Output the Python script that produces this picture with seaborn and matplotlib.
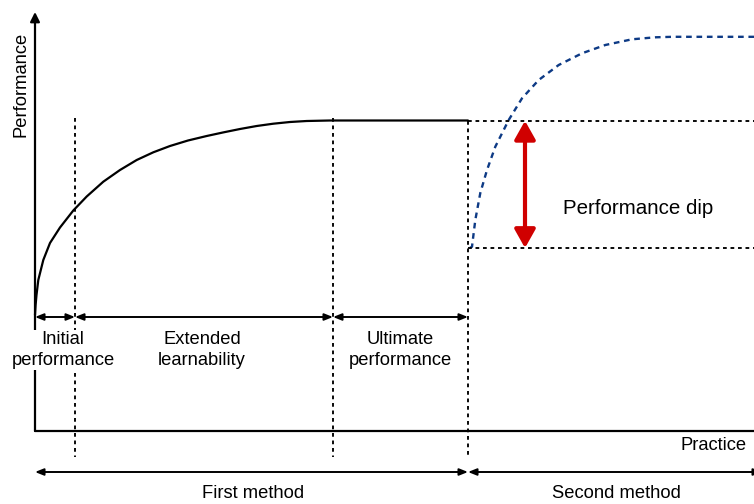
import matplotlib
matplotlib.use("Agg")
import matplotlib.pyplot as plt
import seaborn as sns
import pandas as pd

# Learning curve of the first method (practice, performance)
first_x = [35, 35.6, 36.5, 38.3, 43.3, 50, 60, 73.3, 86.7, 103.3, 120, 136.7, 153.3, 170, 188,
           206.7, 223.3, 240, 256.7, 273.3, 290, 306.7, 330, 468]
first_y = [315, 305, 295, 280, 260, 243, 227.5, 210.5, 196.5, 181.7, 170, 160, 152.3, 146, 140.5,
           136, 132.4, 129, 126, 123.7, 122, 121, 120.5, 120.5]

# Learning curve of the second method
second_x = [470, 472, 475.3, 480.3, 487, 495.3, 508.7, 522, 538.7, 558.7, 582, 605.3, 632, 655.3, 673, 754]
second_y = [248, 246.7, 220, 193, 170, 146.7, 120, 98.3, 80, 65, 53.3, 45, 39.3, 37.3, 36.8, 36.8]

# Phase boundaries along practice axis and performance levels
x_origin = 35
x_initial = 75
x_extended = 333
x_switch = 468
x_end = 754
level_plateau = 120.8
level_dip = 248
axis_y = 431

phase_labels = ["Initial\nperformance", "Extended\nlearnability", "Ultimate\nperformance"]
method_labels = ["First method", "Second method"]

sns.set_style("white")
plt.rcParams['font.family'] = ['Liberation Sans', 'DejaVu Sans']
plt.rcParams['text.color'] = 'black'

fig = plt.figure(figsize=(7.54, 5.04), dpi=100)
ax = fig.add_axes([0, 0, 1, 1])
ax.set_xlim(0, 754)
ax.set_ylim(504, 0)
ax.axis("off")

df1 = pd.DataFrame({"practice": first_x, "performance": first_y})
df2 = pd.DataFrame({"practice": second_x, "performance": second_y})
sns.lineplot(data=df1, x="practice", y="performance", sort=False, color="black", lw=1.6, ax=ax)
sns.lineplot(data=df2, x="practice", y="performance", sort=False, color="#0d3a85", lw=1.7,
             linestyle=(0, (2.4, 2.0)), ax=ax)

dot = dict(color="black", lw=1.35, linestyle=(0, (2.0, 2.0)))
# vertical phase separators
ax.plot([x_initial, x_initial], [118, 457], **dot)
ax.plot([x_extended, x_extended], [118, 457], **dot)
ax.plot([x_switch, x_switch], [level_plateau, 457], **dot)
# horizontal reference levels
ax.plot([x_switch, x_end], [level_plateau, level_plateau], **dot)
ax.plot([x_switch, x_end], [level_dip, level_dip], **dot)

# axes
ax.annotate("", xy=(x_origin, 12), xytext=(x_origin, axis_y),
            arrowprops=dict(arrowstyle="-|>", color="black", lw=1.6, mutation_scale=14, shrinkA=0, shrinkB=0))
ax.plot([x_origin, x_end + 5], [axis_y, axis_y], color="black", lw=1.6)
ax.text(21, 84, "Performance", rotation=90, ha="center", va="center", fontsize=13.2)
ax.text(747, 445, "Practice", ha="right", va="center", fontsize=13.2)

# phase arrows
arr = dict(arrowstyle="<|-|>,head_length=0.5,head_width=0.2", color="black", lw=1.4,
           mutation_scale=10, shrinkA=0, shrinkB=0)
bounds = [x_origin, x_initial, x_extended, x_switch]
for i in range(3):
    ax.annotate("", xy=(bounds[i], 317), xytext=(bounds[i + 1], 317), arrowprops=arr)
label_x = [63, 202, 400]
for i, lab in enumerate(phase_labels):
    bb = dict(facecolor="white", edgecolor="none", pad=1) if i == 0 else None
    ax.text(label_x[i], 350, lab, ha="center", va="center", fontsize=13.2,
            linespacing=1.25, bbox=bb, zorder=5)

# method arrows
ax.annotate("", xy=(x_origin, 472), xytext=(x_switch, 472), arrowprops=arr)
ax.annotate("", xy=(x_switch, 472), xytext=(x_end + 8, 472), arrowprops=arr)
ax.text(253, 493, method_labels[0], ha="center", va="center", fontsize=13.2)
ax.text(616, 493, method_labels[1], ha="center", va="center", fontsize=13.2)

# performance dip
ax.annotate("", xy=(525, level_plateau), xytext=(525, level_dip),
            arrowprops=dict(arrowstyle="<|-|>,head_length=0.8,head_width=0.45", color="#d00000",
                            lw=3, mutation_scale=14, shrinkA=0, shrinkB=0))
ax.text(638, 208, "Performance dip", ha="center", va="center", fontsize=14.8)

fig.savefig("out.png", dpi=100)
